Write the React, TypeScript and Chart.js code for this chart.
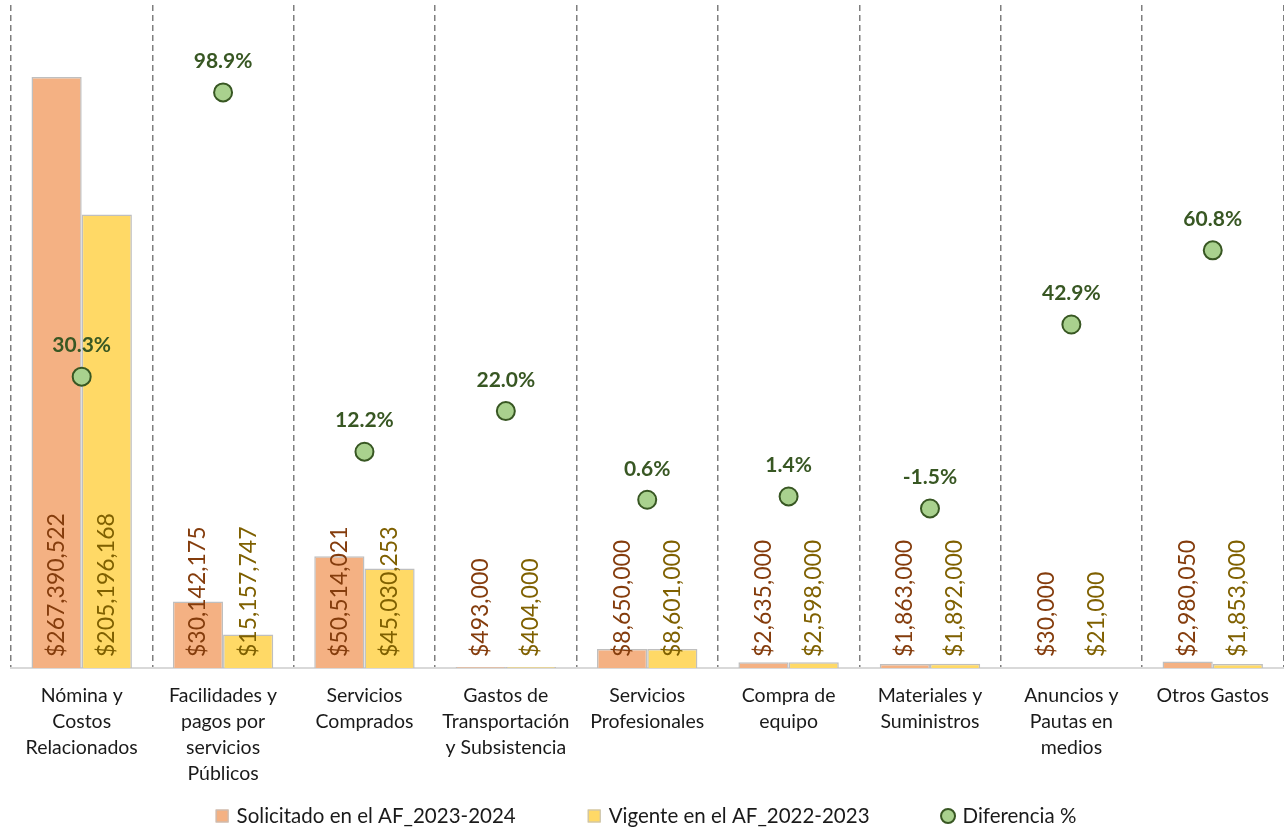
import React, { useEffect, useRef } from 'react';
import { Chart, registerables } from 'chart.js';

Chart.register(...registerables);

const FONT = 'Lato, "Open Sans", "Noto Sans", sans-serif';

const categories: string[][] = [
  ['Nómina y', 'Costos', 'Relacionados'],
  ['Facilidades y', 'pagos por', 'servicios', 'Públicos'],
  ['Servicios', 'Comprados'],
  ['Gastos de', 'Transportación', 'y Subsistencia'],
  ['Servicios', 'Profesionales'],
  ['Compra de', 'equipo'],
  ['Materiales y', 'Suministros'],
  ['Anuncios y', 'Pautas en', 'medios'],
  ['Otros Gastos'],
];

const solicitado = [267390522, 30142175, 50514021, 493000, 8650000, 2635000, 1863000, 30000, 2980050];
const vigente = [205196168, 15157747, 45030253, 404000, 8601000, 2598000, 1892000, 21000, 1853000];
const diferencia = [30.3, 98.9, 12.2, 22.0, 0.6, 1.4, -1.5, 42.9, 60.8];

const seriesNames = ['Solicitado en el AF_2023-2024', 'Vigente en el AF_2022-2023', 'Diferencia %'];

const amountMin = 0;
const amountMax = 300000000;
const pctMin = -40;
const pctMax = 120;

const ORANGE = '#F4B183';
const YELLOW = '#FFD966';
const ORANGE_TEXT = '#843C0C';
const YELLOW_TEXT = '#7F6000';
const GREEN_FILL = '#A9D18E';
const GREEN_DARK = '#385723';
const BAR_BORDER = '#BFBFBF';

const fmtMoney = (v: number) => '$' + v.toLocaleString('en-US');
const fmtPct = (v: number) => v.toFixed(1) + '%';

const labelPlugin = {
  id: 'valueLabels',
  afterDatasetsDraw(chart: any) {
    const ctx = chart.ctx;
    const textColors = [ORANGE_TEXT, YELLOW_TEXT];
    [0, 1].forEach((di) => {
      const meta = chart.getDatasetMeta(di);
      meta.data.forEach((bar: any, i: number) => {
        const v = chart.data.datasets[di].data[i];
        const base = chart.scales.y.getPixelForValue(0);
        ctx.save();
        ctx.translate(bar.x, base - 11);
        ctx.rotate(-Math.PI / 2);
        ctx.font = `23px ${FONT}`;
        ctx.fillStyle = textColors[di];
        ctx.textAlign = 'left';
        ctx.textBaseline = 'middle';
        ctx.fillText(fmtMoney(v), 0, 0);
        ctx.restore();
      });
    });
    const pmeta = chart.getDatasetMeta(2);
    pmeta.data.forEach((pt: any, i: number) => {
      const v = chart.data.datasets[2].data[i];
      ctx.save();
      ctx.font = `bold 21px ${FONT}`;
      ctx.fillStyle = GREEN_DARK;
      ctx.textAlign = 'center';
      ctx.textBaseline = 'middle';
      ctx.fillText(fmtPct(v), pt.x, pt.y - 31);
      ctx.restore();
    });
  },
};

const legendPlugin = {
  id: 'customLegend',
  afterDraw(chart: any) {
    const ctx = chart.ctx;
    const ds = chart.data.datasets;
    ctx.save();
    ctx.font = `20.5px ${FONT}`;
    const box = 13;
    const gapBoxText = 8;
    const gapItems = 72;
    const widths = ds.map((d: any) => box + gapBoxText + ctx.measureText(d.label).width);
    const total = widths.reduce((a: number, b: number) => a + b, 0) + gapItems * (ds.length - 1);
    let x = (chart.width - total) / 2 + 4;
    const y = chart.height - 16;
    ds.forEach((d: any, i: number) => {
      if (d.type === 'line') {
        ctx.beginPath();
        ctx.arc(x + box / 2, y, 7, 0, Math.PI * 2);
        ctx.fillStyle = d.pointBackgroundColor;
        ctx.fill();
        ctx.lineWidth = 2;
        ctx.strokeStyle = d.pointBorderColor;
        ctx.stroke();
      } else {
        ctx.fillStyle = d.backgroundColor;
        ctx.fillRect(x, y - box / 2, box, box);
        ctx.lineWidth = 1;
        ctx.strokeStyle = d.borderColor;
        ctx.strokeRect(x + 0.5, y - box / 2 + 0.5, box - 1, box - 1);
      }
      ctx.fillStyle = '#1a1a1a';
      ctx.textAlign = 'left';
      ctx.textBaseline = 'middle';
      ctx.fillText(d.label, x + box + gapBoxText, y);
      x += widths[i] + gapItems;
    });
    ctx.restore();
  },
};

export default function App() {
  const canvasRef = useRef<HTMLCanvasElement | null>(null);

  useEffect(() => {
    if (!canvasRef.current) return;
    const chart = new Chart(canvasRef.current, {
      type: 'bar',
      data: {
        labels: categories as any,
        datasets: [
          {
            type: 'bar',
            label: seriesNames[0],
            data: solicitado,
            backgroundColor: ORANGE,
            borderColor: BAR_BORDER,
            borderWidth: 1.5,
            yAxisID: 'y',
            order: 1,
            barPercentage: 1,
            categoryPercentage: 0.71,
          },
          {
            type: 'bar',
            label: seriesNames[1],
            data: vigente,
            backgroundColor: YELLOW,
            borderColor: BAR_BORDER,
            borderWidth: 1.5,
            yAxisID: 'y',
            order: 1,
            barPercentage: 1,
            categoryPercentage: 0.71,
          },
          {
            type: 'line',
            label: seriesNames[2],
            data: diferencia,
            yAxisID: 'y1',
            showLine: false,
            pointRadius: 9,
            pointBackgroundColor: GREEN_FILL,
            pointBorderColor: GREEN_DARK,
            pointBorderWidth: 2,
            order: 0,
          } as any,
        ],
      },
      options: {
        responsive: false,
        animation: false,
        layout: { autoPadding: false, padding: { left: 11, right: 0, top: 5, bottom: 32 } },
        plugins: {
          legend: { display: false },
          tooltip: { enabled: false },
        },
        scales: {
          x: {
            offset: true,
            grid: {
              display: true,
              offset: true,
              color: '#7F7F7F',
              lineWidth: 1.5,
              drawTicks: false,
            },
            border: { display: true, color: '#D9D9D9', width: 2, dash: [6, 4] },
            ticks: {
              font: { family: FONT, size: 19.5, lineHeight: 26 / 19.5 },
              color: '#1a1a1a',
              padding: 15,
              maxRotation: 0,
              minRotation: 0,
              autoSkip: false,
            },
            afterFit: (s: any) => {
              s.height = 132;
            },
          },
          y: { display: false, min: amountMin, max: amountMax },
          y1: { display: false, min: pctMin, max: pctMax },
        },
      } as any,
      plugins: [labelPlugin, legendPlugin],
    });
    return () => chart.destroy();
  }, []);

  return (
    <div style={{ position: 'fixed', left: 0, top: 0, width: 1284, height: 832, background: '#fff' }}>
      <canvas ref={canvasRef} width={1284} height={832} style={{ display: 'block' }} />
    </div>
  );
}
